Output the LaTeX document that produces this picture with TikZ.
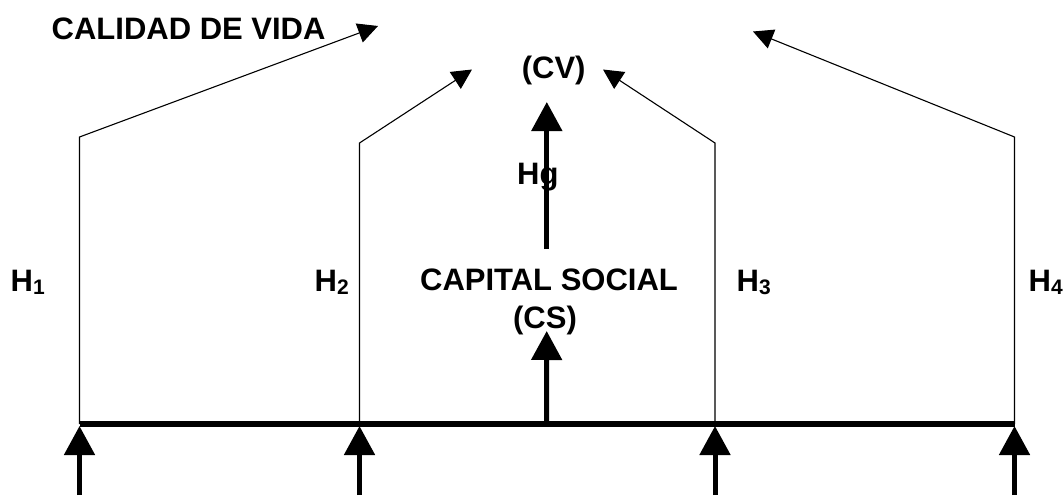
\documentclass[tikz,border=0pt]{standalone}
\usepackage{fontspec}
\setmainfont{Liberation Sans}
\usetikzlibrary{arrows.meta}
\newcommand\hsub[1]{\raisebox{-3pt}{\fontsize{21}{21}\selectfont #1}}
\begin{document}
\begin{tikzpicture}[x=1pt,y=-1pt,
  lbl/.style={inner sep=0pt, font=\fontsize{31}{37}\selectfont\bfseries},
  thinlink/.style={line width=1.1pt, -{Triangle[length=20pt,width=20pt]}},
  thickarr/.style={line width=5pt, -{Triangle[length=29pt,width=30pt]}},
  bar/.style={line width=6.5pt}]
\useasboundingbox (0,0) rectangle (1064,495);
% coordinates
\coordinate (h1) at (79.5,424);
\coordinate (h2) at (359.5,424);
\coordinate (h3) at (715,424);
\coordinate (h4) at (1014.5,424);
\coordinate (hc) at (546.5,424);
\coordinate (t1) at (79.5,137);
\coordinate (t2) at (359.5,143);
\coordinate (t3) at (715,143);
\coordinate (t4) at (1014.5,137);
\coordinate (a1) at (378,26);
\coordinate (a2) at (472,69.5);
\coordinate (a3) at (603,69.5);
\coordinate (a4) at (753,31.5);
\coordinate (b1) at (79.5,426);
\coordinate (b2) at (359.5,426);
\coordinate (b3) at (715,426);
\coordinate (b4) at (1014.5,426);
\coordinate (s1) at (79.5,495);
\coordinate (s2) at (359.5,495);
\coordinate (s3) at (715,495);
\coordinate (s4) at (1014.5,495);
\coordinate (cstip) at (546.7,331);
\coordinate (hgbot) at (546.8,249);
\coordinate (hgtip) at (546.8,102);
% texts
\node[lbl, anchor=base west] (cdv) at (51.5,40) {CALIDAD DE VIDA};
\node[lbl, anchor=base] (cv) at (553.7,78) {(CV)};
\node[lbl, anchor=base west] (hg) at (517,184.5) {Hg};
\node[lbl, anchor=base] (cs1) at (549,290) {CAPITAL SOCIAL};
\node[lbl, anchor=base] (cs2) at (545,328) {(CS)};
\node[lbl, anchor=base west] (l1) at (10.5,291) {H\hsub{1}};
\node[lbl, anchor=base west] (l2) at (314.5,291) {H\hsub{2}};
\node[lbl, anchor=base west] (l3) at (736.5,291) {H\hsub{3}};
\node[lbl, anchor=base west] (l4) at (1028.5,291) {H\hsub{4}};
% thin connectors
\draw[thinlink] (h1) -- (t1) -- (a1);
\draw[thinlink] (h2) -- (t2) -- (a2);
\draw[thinlink] (h3) -- (t3) -- (a3);
\draw[thinlink] (h4) -- (t4) -- (a4);
% bar
\draw[bar] (h1) -- (h4);
% thick arrows
\draw[thickarr] (s1) -- (b1);
\draw[thickarr] (s2) -- (b2);
\draw[thickarr] (s3) -- (b3);
\draw[thickarr] (s4) -- (b4);
\draw[thickarr] (hc) -- (cstip);
\draw[thickarr] (hgbot) -- (hgtip);
\end{tikzpicture}
\end{document}
